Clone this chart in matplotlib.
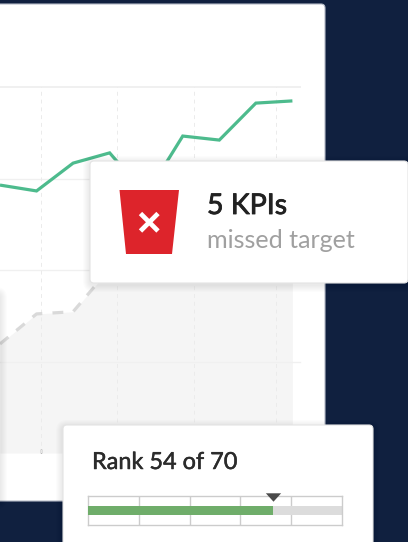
import matplotlib
matplotlib.use("Agg")
import matplotlib.pyplot as plt
import matplotlib.patheffects as pe
from matplotlib.patches import FancyBboxPatch, Polygon as MplPolygon

W, H = 408, 542

# -------------------------------------------------
# DATA
# -------------------------------------------------
periods = [0, 1, 2, 3, 4, 5, 6, 7, 8]
actual = [73.2, 71.6, 79.2, 82.0, 70.5, 86.6, 85.5, 95.6, 96.2]
target = [29.8, 38.0, 38.6, 50.3, 58.0, 63.6, 60.7, 66.4, 67.8]
y_ticks = [25, 50, 75, 100]
x_ticks = [1.12, 3.2, 5.31, 7.55]

kpi_title = "5 KPIs"
kpi_sub = "missed target"
rank_title = "Rank 54 of 70"
rank_pct = 72.8
rank_ticks = [20, 40, 60, 80]

NAVY = "#10203f"
GREEN = "#4dbb8d"
RED = "#dd242b"
FONT = "Lato"


def px_axes(fig, x0, y0, x1, y1, zorder):
    # axes placed with picture pixels, y counted from the top
    ax = fig.add_axes([x0 / W, 1 - y1 / H, (x1 - x0) / W, (y1 - y0) / H], zorder=zorder)
    ax.patch.set_alpha(0)
    return ax


def draw_card(ax, x0, y0, x1, y1, edge="none", shadow=True, radius=4):
    if shadow:
        for i in range(7, 0, -1):
            ax.add_patch(FancyBboxPatch(
                (x0 - i, y0 - i + 2), x1 - x0 + 2 * i, y1 - y0 + 2 * i,
                boxstyle=f"round,pad=0,rounding_size={radius + i}",
                facecolor="black", edgecolor="none", alpha=0.010,
            ))
    ax.add_patch(FancyBboxPatch(
        (x0, y0), x1 - x0, y1 - y0,
        boxstyle=f"round,pad=0,rounding_size={radius}",
        facecolor="white", edgecolor=edge, linewidth=0.8,
    ))


def bold_up(color, width):
    # the installed fonts have no medium cut, thicken the glyphs a bit
    return [pe.withStroke(linewidth=width, foreground=color)]


fig = plt.figure(figsize=(W / 100, H / 100), dpi=100, facecolor=NAVY)

# -------------------------------------------------
# BACK CARD
# -------------------------------------------------
back = px_axes(fig, 0, 0, W, H, 0)
back.set_xlim(0, W)
back.set_ylim(H, 0)
back.axis("off")
draw_card(back, -20, 4, 325, 501, edge="#b4bac6", shadow=False)

# -------------------------------------------------
# LINE CHART
# -------------------------------------------------
ax = px_axes(fig, 0, 87, 300, 453, 1)
ax.set_xlim(0, 300 / 36.55)
ax.set_ylim(0, 100)
ax.fill_between(periods, target, 0, color="#f5f5f5", linewidth=0, zorder=1)
for v in y_ticks:
    ax.axhline(v, color="#f0f0f0", lw=1.4 if v == 100 else 1.0, zorder=2, clip_on=False)
for v in x_ticks:
    ax.axvline(v, color="#ebebeb", lw=0.7, ls=(0, (4, 4)), zorder=2)
ax.plot(periods, target, color="#d9d9d9", lw=2.3, ls=(0, (3.4, 3.2)), zorder=3,
        dash_capstyle="butt")
ax.plot(periods, actual, color=GREEN, lw=2.3, zorder=4, solid_joinstyle="miter",
        solid_capstyle="butt")
ax.set_xticks(x_ticks[:1])
ax.set_yticks([])
ax.set_xticklabels([""])
ax.tick_params(axis="x", length=3, width=1, color="#7d7d7d", direction="in", pad=0)
for s in ax.spines.values():
    s.set_visible(False)

# -------------------------------------------------
# OVERLAY CARDS
# -------------------------------------------------
top = px_axes(fig, 0, 0, W, H, 2)
top.set_xlim(0, W)
top.set_ylim(H, 0)
top.axis("off")

# card cut off at the left edge, only its shadow shows
draw_card(top, -60, 292, 0, 500, radius=4)
draw_card(top, 90, 161, 408, 283, edge="#e4e4e4")
draw_card(top, 63, 425, 373, 570, edge="#e4e4e4")

# red badge
top.add_patch(MplPolygon([(119.5, 190), (179, 190), (172, 254), (126, 254)], closed=True,
                         facecolor=RED, edgecolor="none"))
top.plot([140.5, 158], [213.5, 231], color="white", lw=3.4, solid_capstyle="butt")
top.plot([158, 140.5], [213.5, 231], color="white", lw=3.4, solid_capstyle="butt")

top.text(207, 214, kpi_title, fontsize=20.5, family=FONT, color="#212121",
         ha="left", va="baseline", path_effects=bold_up("#212121", 0.6))
top.text(207, 248, kpi_sub, fontsize=18.1, family=FONT, color="#a0a0a0",
         ha="left", va="baseline")
top.text(92, 469, rank_title, fontsize=16.9, family=FONT, color="#2b2b2b",
         ha="left", va="baseline", path_effects=bold_up("#2b2b2b", 0.35))

# -------------------------------------------------
# RANK BAR
# -------------------------------------------------
bar = px_axes(fig, 88, 496, 342, 525, 3)
bar.set_xlim(0, 100)
bar.set_ylim(0, 1)
bar.barh(0.5, 100, height=0.31, color="#dcdcdc", zorder=2)
bar.barh(0.5, rank_pct, height=0.31, color="#6fad6a", zorder=3)
for v in rank_ticks:
    bar.axvline(v, color="#cccccc", lw=1.0, zorder=1)
bar.set_xticks([])
bar.set_yticks([])
for s in bar.spines.values():
    s.set_color("#cccccc")
    s.set_linewidth(1.0)

mark = px_axes(fig, 88, 488, 342, 505, 4)
mark.set_xlim(0, 100)
mark.set_ylim(0, 1)
mark.axis("off")
mark.plot([rank_pct], [0.5], marker=[(-1, 0.55), (1, 0.55), (0, -0.55)], markersize=11,
          color="#4a4a4a", markeredgewidth=0, clip_on=False)

fig.savefig("out.png", dpi=100, facecolor=NAVY)
